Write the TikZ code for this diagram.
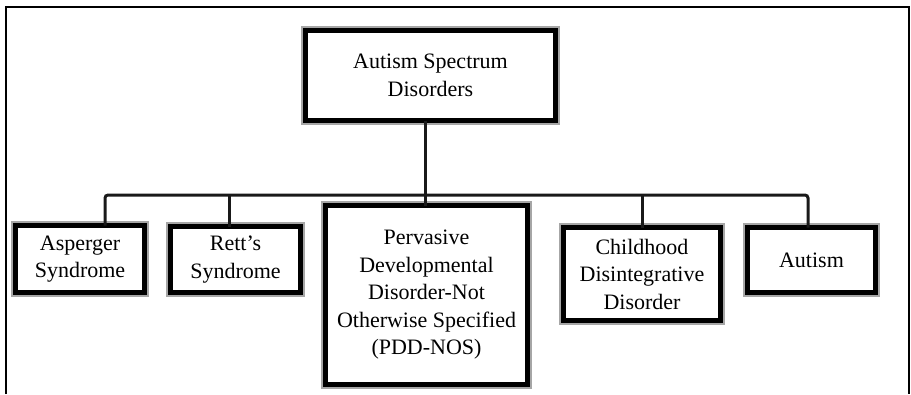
\documentclass[tikz,border=0pt]{standalone}
\usepackage{fontspec}
\setmainfont{Liberation Serif}
\begin{document}
\begin{tikzpicture}[x=1pt,y=-1pt,
  box/.style={draw=black, line width=5pt, fill=white, align=center,
    inner sep=0pt, outer sep=0pt, font=\fontsize{22}{27.5}\selectfont,
    preaction={draw=black!35, line width=8.5pt}},
  conn/.style={line width=3pt, draw=black!90},
  frame/.style={line width=2pt, draw=black}]
\useasboundingbox (0,0) rectangle (911,394);
\draw[frame] (6,394) -- (6,7) -- (909,7) -- (909,394);

\node[box, minimum width=250pt, minimum height=90pt] (top) at (430.5,75.5) {Autism Spectrum\\Disorders};
\node[box, minimum width=129pt, minimum height=67pt] (asp) at (80,259) {Asperger\\Syndrome};
\node[box, minimum width=130pt, minimum height=66pt] (rett) at (235.5,259.5) {Rett’s\\Syndrome};
\node[box, minimum width=202pt, minimum height=179pt] (pdd) at (426.5,295) {Pervasive\\Developmental\\Disorder-Not\\Otherwise Specified\\(PDD-NOS)};
\node[box, minimum width=157pt, minimum height=93pt] (cdd) at (642,274) {Childhood\\Disintegrative\\Disorder};
\node[box, minimum width=128pt, minimum height=65pt] (aut) at (811.5,260) {Autism};

\coordinate (b1) at (105,195);
\coordinate (b2) at (229,195);
\coordinate (b3) at (425,195);
\coordinate (b4) at (642,195);
\coordinate (b5) at (808,195);

\draw[conn, rounded corners=3pt] (b1 |- asp.north) -- (b1) -- (b5) -- (b5 |- aut.north);
\draw[conn] (b2) -- (b2 |- rett.north);
\draw[conn] (b3 |- top.south) -- (b3) -- (b3 |- pdd.north);
\draw[conn] (b4) -- (b4 |- cdd.north);
\end{tikzpicture}
\end{document}
